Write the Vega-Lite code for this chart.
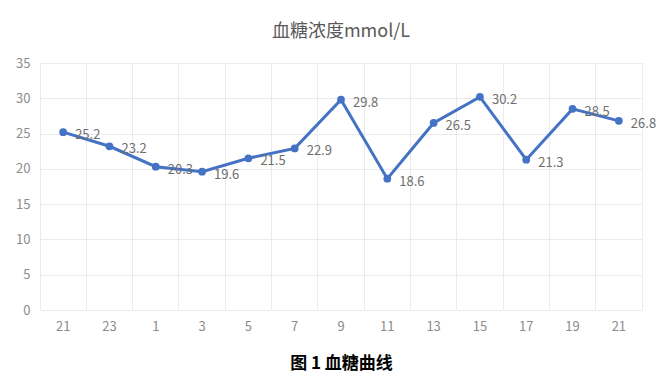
{
  "$schema": "https://vega.github.io/schema/vega-lite/v6.json",
  "width": 666,
  "height": 374,
  "autosize": {"type": "fit", "contains": "padding"},
  "padding": {"left": 15, "top": 23, "right": 12, "bottom": 3},
  "background": "#ffffff",
  "config": {
    "font": "Noto Sans CJK SC",
    "view": {"stroke": "#ebebeb", "strokeWidth": 1}
  },
  "title": {
    "text": "血糖浓度mmol/L",
    "fontSize": 18,
    "fontWeight": "normal",
    "color": "#595959",
    "font": "Noto Sans CJK SC",
    "offset": 16,
    "anchor": "middle"
  },
  "data": {
    "values": [
      {"t": "a-21", "v": 25.2},
      {"t": "a-23", "v": 23.2},
      {"t": "b-1", "v": 20.3},
      {"t": "b-3", "v": 19.6},
      {"t": "b-5", "v": 21.5},
      {"t": "b-7", "v": 22.9},
      {"t": "b-9", "v": 29.8},
      {"t": "b-11", "v": 18.6},
      {"t": "b-13", "v": 26.5},
      {"t": "b-15", "v": 30.2},
      {"t": "b-17", "v": 21.3},
      {"t": "b-19", "v": 28.5},
      {"t": "b-21", "v": 26.8}
    ]
  },
  "encoding": {
    "x": {
      "field": "t",
      "type": "ordinal",
      "sort": null,
      "scale": {"type": "band", "paddingInner": 0, "paddingOuter": 0}
    },
    "y": {
      "field": "v",
      "type": "quantitative",
      "scale": {"domain": [0, 35]},
      "axis": {
        "values": [0, 5, 10, 15, 20, 25, 30, 35],
        "title": null,
        "domain": false,
        "ticks": false,
        "labelColor": "#8c8c8c",
        "labelFontSize": 13,
        "labelPadding": 10,
        "gridColor": "#ebebeb",
        "gridWidth": 1
      }
    }
  },
  "layer": [
    {
      "mark": {"type": "line", "color": "#4472c4", "strokeWidth": 3},
      "encoding": {
        "x": {
          "field": "t",
          "type": "ordinal",
          "sort": null,
          "scale": {"type": "band", "paddingInner": 0, "paddingOuter": 0},
          "axis": {
            "labelExpr": "split(datum.value, '-')[1]",
            "labelAngle": 0,
            "labelColor": "#8c8c8c",
            "labelFontSize": 13,
            "labelPadding": 10,
            "domain": false,
            "ticks": false,
            "grid": false,
            "title": "图 1 血糖曲线",
            "titleFontSize": 17,
            "titleFontWeight": "bold",
            "titleColor": "#000000",
            "titlePadding": 22,
            "titleFont": "Noto Sans CJK SC"
          }
        }
      }
    },
    {
      "mark": {"type": "point", "filled": true, "color": "#4472c4", "size": 60, "opacity": 1},
      "encoding": {
        "x": {
          "field": "t",
          "type": "ordinal",
          "sort": null,
          "scale": {"type": "band", "paddingInner": 0, "paddingOuter": 0},
          "axis": {
            "bandPosition": 0,
            "labels": false,
            "domain": false,
            "ticks": false,
            "grid": true,
            "gridColor": "#ebebeb",
            "title": null
          }
        }
      }
    },
    {
      "mark": {"type": "text", "align": "left", "baseline": "middle", "dx": 12, "dy": 3, "fontSize": 13, "color": "#6e6e6e"},
      "encoding": {
        "x": {"field": "t", "type": "ordinal", "sort": null, "scale": {"type": "band", "paddingInner": 0, "paddingOuter": 0}, "axis": null},
        "text": {"field": "v", "type": "quantitative", "format": ".1f"}
      }
    }
  ],
  "resolve": {"axis": {"x": "independent"}}
}
